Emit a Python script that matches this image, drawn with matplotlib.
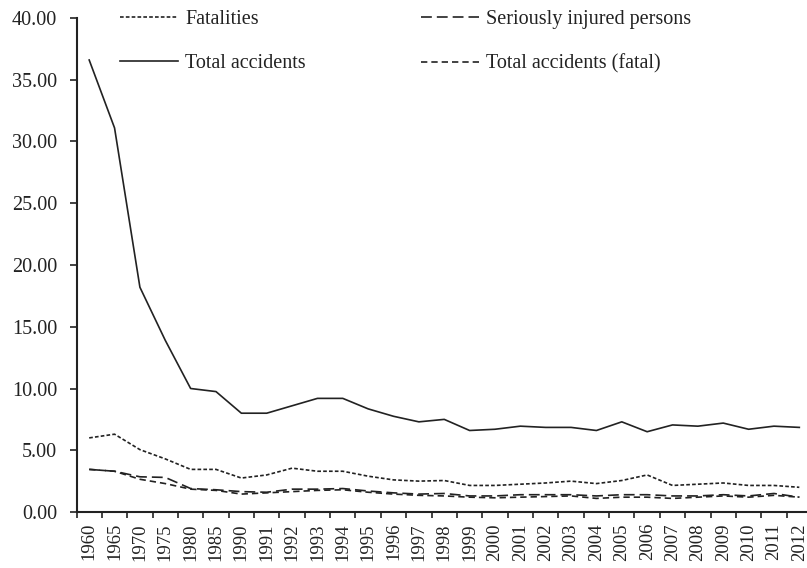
import matplotlib
matplotlib.use('Agg')
import matplotlib.pyplot as plt
import numpy as np

plt.rcParams['font.family'] = ['Liberation Serif', 'DejaVu Serif']

# Categories on the x axis
years = ['1960', '1965', '1970', '1975', '1980', '1985', '1990', '1991', '1992',
         '1993', '1994', '1995', '1996', '1997', '1998', '1999', '2000', '2001',
         '2002', '2003', '2004', '2005', '2006', '2007', '2008', '2009', '2010',
         '2011', '2012']

# Series values
total_accidents = [36.6, 31.1, 18.2, 13.9, 10.0, 9.75, 8.0, 8.0, 8.6, 9.2, 9.2,
                   8.35, 7.75, 7.3, 7.5, 6.6, 6.7, 6.95, 6.85, 6.85, 6.6, 7.3,
                   6.5, 7.05, 6.95, 7.2, 6.7, 6.95, 6.85]
fatalities = [6.0, 6.3, 5.05, 4.3, 3.45, 3.45, 2.75, 3.0, 3.55, 3.3, 3.3, 2.9,
              2.6, 2.5, 2.55, 2.15, 2.15, 2.25, 2.35, 2.5, 2.3, 2.55, 3.0, 2.15,
              2.25, 2.35, 2.15, 2.15, 2.0]
seriously_injured = [3.45, 3.3, 2.85, 2.8, 1.9, 1.8, 1.65, 1.6, 1.85, 1.85, 1.9,
                     1.7, 1.55, 1.45, 1.5, 1.3, 1.3, 1.4, 1.4, 1.4, 1.3, 1.4,
                     1.4, 1.3, 1.3, 1.4, 1.3, 1.5, 1.2]
total_fatal = [3.45, 3.3, 2.65, 2.3, 1.85, 1.75, 1.45, 1.55, 1.65, 1.75, 1.8,
               1.6, 1.45, 1.35, 1.3, 1.2, 1.15, 1.2, 1.25, 1.3, 1.1, 1.2, 1.2,
               1.1, 1.2, 1.3, 1.2, 1.35, 1.2]

ink = '#222222'

fig = plt.figure(figsize=(8.07, 5.68), dpi=100)
ax = fig.add_axes([76.5 / 807, (568 - 512) / 568, (812 - 76.5) / 807, 494 / 568])

x = np.arange(len(years))
l_fat, = ax.plot(x, fatalities, color=ink, lw=1.2, linestyle=(0, (2.2, 1.3)),
                 label='Fatalities')
l_inj, = ax.plot(x, seriously_injured, color=ink, lw=1.2, linestyle=(0, (6.5, 3)),
                 label='Seriously injured persons')
l_tot, = ax.plot(x, total_accidents, color=ink, lw=1.2, linestyle='-',
                 label='Total accidents')
l_tf, = ax.plot(x, total_fatal, color=ink, lw=1.2, linestyle=(0, (3.8, 2.4)),
                label='Total accidents (fatal)')

ax.set_xlim(-0.5, len(years) - 0.5)
ax.set_ylim(0, 40)

ax.set_yticks(np.arange(0, 41, 5))
ax.set_yticklabels([f'{v:.2f}' for v in np.arange(0, 41, 5)])
ax.set_xticks(x)
ax.set_xticklabels(years, rotation=90)
ax.set_xticks(np.arange(-0.5, len(years), 1), minor=True)

ax.tick_params(axis='y', direction='out', length=5, width=1.2, color=ink,
               labelsize=14.5, labelcolor=ink, pad=9)
ax.tick_params(axis='x', which='major', length=0, labelsize=13.5, labelcolor=ink, pad=8)
ax.tick_params(axis='x', which='minor', direction='out', length=4, width=1.2, color=ink)

for side in ['top', 'right']:
    ax.spines[side].set_visible(False)
for side in ['left', 'bottom']:
    ax.spines[side].set_color(ink)
    ax.spines[side].set_linewidth(1.5)

# legend fills column-wise, so order handles to get the reference's rows
leg = ax.legend(handles=[l_fat, l_tot, l_inj, l_tf], loc='upper left',
                bbox_to_anchor=(120 / 807, 1 - 10 / 568), bbox_transform=fig.transFigure,
                ncol=2, frameon=False, fontsize=14.5, handlelength=2.9, handletextpad=0.35,
                columnspacing=5.7, labelspacing=1.25, borderpad=0.0, borderaxespad=0.0)
for t in leg.get_texts():
    t.set_color(ink)

fig.savefig('out.png', dpi=100)
